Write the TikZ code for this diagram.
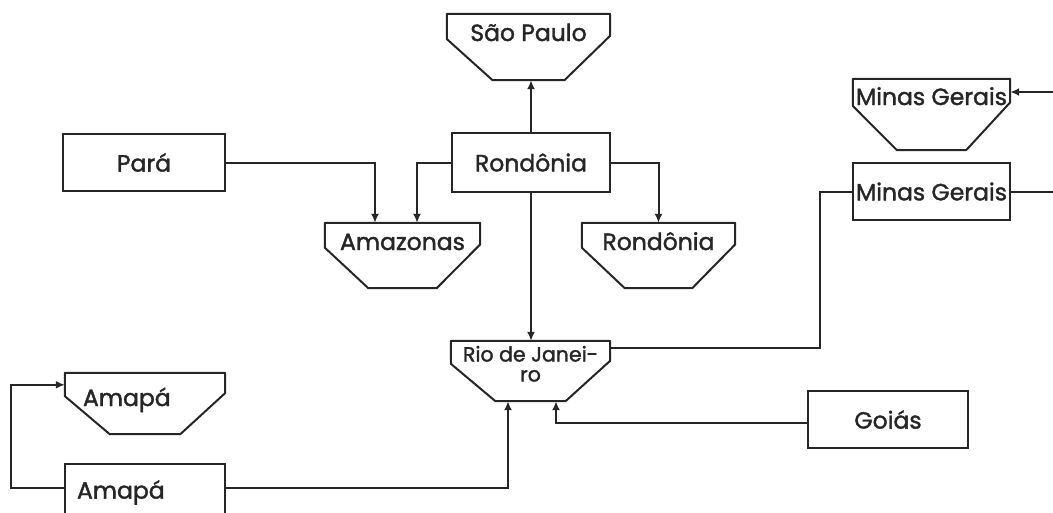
\documentclass[tikz,border=0pt]{standalone}
\usepackage{fontspec}
\setmainfont{Poppins}[FakeBold=1.6]
\usetikzlibrary{arrows.meta,calc}
\definecolor{ink}{HTML}{262626}
\newcommand\lbl{\fontsize{23.5}{24}\selectfont}
\newcommand\lblsmall{\fontsize{20.5}{20}\selectfont}
\tikzset{
  conn/.style={line width=2pt, draw=ink},
  arr/.style={conn, -{Latex[length=9pt,width=8pt]}},
  srcbox/.style={draw=ink, line width=2pt, inner sep=0pt, minimum width=160pt,
    minimum height=57pt, font=\lbl, text=ink},
  sinkbox/.style={inner sep=0pt, font=\lbl, text=ink,
    append after command={\pgfextra{\let\sk\tikzlastnode
      \draw[line width=2pt, draw=ink, line join=round]
        (\sk.north west) -- (\sk.north east)
        -- ($(\sk.north east)!0.33!(\sk.south east)$)
        -- ($(\sk.south west)!0.72!(\sk.south east)$)
        -- ($(\sk.south west)!0.28!(\sk.south east)$)
        -- ($(\sk.north west)!0.38!(\sk.south west)$) -- cycle;}}},
  textleft/.style={align=left, inner xsep=15pt, text width=130pt},
}
\begin{document}
\begin{tikzpicture}[x=1pt,y=-1pt]
\useasboundingbox (0,0) rectangle (1053,512);
\clip (0,0) rectangle (1053,512);

% sink (trapezoid) nodes
\node[sinkbox, minimum width=163pt, text height=27pt, text depth=39pt] (sp) at (528.5,47) {São Paulo};
\node[sinkbox, minimum width=155pt, text height=27pt, text depth=38pt] (amaz) at (402.5,255.5) {Amazonas};
\node[sinkbox, minimum width=153pt, text height=27pt, text depth=38pt] (rsink) at (658.5,255.5) {Rondônia};
\node[sinkbox, minimum width=157pt, text height=26pt, text depth=45pt] (mgsink) at (931.5,114.5) {Minas Gerais};
\node[sinkbox, minimum width=159pt, text height=20.5pt, text depth=39.5pt, font=\lblsmall] (rio) at (530.5,371)
  {\begin{tabular}[t]{@{}c@{}}Rio de Janei-\\ro\end{tabular}};
\node[sinkbox, textleft, inner xsep=18pt, text width=124pt, minimum width=160pt, text height=33pt, text depth=28pt] (apsink) at (145,403.5) {Amapá};

% source (rectangle) nodes
\node[srcbox, minimum width=158pt, minimum height=59pt] (rond) at (531,162.5) {Rondônia};
\node[srcbox, minimum width=162pt] (para) at (144,162.5) {Pará};
\node[srcbox, minimum width=157pt] (mgbox) at (931.5,191.5) {Minas Gerais};
\node[srcbox] (goias) at (888,419.5) {Goiás};
\node[srcbox, textleft, inner xsep=12pt, text width=136pt] (apbox) at (145,492.5) {Amapá};

% free ends at the right margin
\coordinate (mgin) at (1053,92);
\coordinate (mgout) at (1053,191.5);

% connectors
\draw[arr] (para.east) -| ([xshift=-27.5pt]amaz.north);
\draw[arr] (rond.west) -| ([xshift=14.5pt]amaz.north);
\draw[arr] (rond.east) -| (rsink.north);
\draw[arr] (rond.north) -- (rond.north |- sp.south);
\draw[arr] (rond.south) -- (rond.south |- rio.north);
\draw[conn] ([yshift=-7pt]rio.north east) -| ([xshift=-32pt]mgbox.west) -- (mgbox.west);
\draw[arr] (mgin) -- (mgin -| mgsink.east);
\draw[conn] (mgbox.east) -- (mgbox.east -| mgout);
\draw[arr] ([yshift=-3.5pt]goias.west) -| ([xshift=25.5pt]rio.south);
\draw[arr] ([yshift=4.5pt]apbox.east) -| ([xshift=-22.5pt]rio.south);
\draw[arr] ([yshift=4.5pt]apbox.west) -- ++(-53,0) |- ([yshift=-12pt]apsink.north west);
\end{tikzpicture}
\end{document}
